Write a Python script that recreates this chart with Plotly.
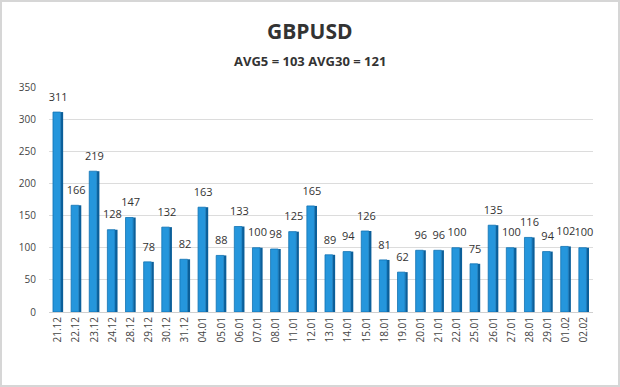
import plotly.graph_objects as go

dates = ["21.12","22.12","23.12","24.12","28.12","29.12","30.12","31.12","04.01","05.01",
         "06.01","07.01","08.01","11.01","12.01","13.01","14.01","15.01","18.01","19.01",
         "20.01","21.01","22.01","25.01","26.01","27.01","28.01","29.01","01.02","02.02"]
values = [311,166,219,128,147,78,132,82,163,88,
          133,100,98,125,165,89,94,126,81,62,
          96,96,100,75,135,100,116,94,102,100]

title_text = "GBPUSD"
subtitle_text = "AVG5 = 103 AVG30 = 121"

FONT = "Open Sans, Liberation Sans, sans-serif"

fig = go.Figure()
# side face (darker) to give a 3D look
fig.add_trace(go.Bar(
    x=dates, y=values, width=0.14, offset=0.14,
    marker=dict(color="#0b5f9a", line=dict(width=0)),
    hoverinfo="skip", showlegend=False,
))
# front face
fig.add_trace(go.Bar(
    x=dates, y=values, width=0.42, offset=-0.28,
    marker=dict(color="#2596dc", line=dict(color="#1172b3", width=0.8)),
    showlegend=False,
))
# value labels
fig.add_trace(go.Scatter(
    x=dates, y=values, mode="markers+text", text=[str(v) for v in values],
    textposition="top center",
    marker=dict(size=12, opacity=0),
    textfont=dict(family=FONT, size=11, color="#333333"),
    cliponaxis=False, showlegend=False, hoverinfo="skip",
))

fig.update_layout(
    width=620, height=387,
    barmode="overlay",
    paper_bgcolor="white", plot_bgcolor="white",
    margin=dict(l=49, r=27, t=87, b=75),
    font=dict(family=FONT, color="#444444"),
    xaxis=dict(
        range=[-0.5, len(dates) - 0.5],
        tickangle=-90, tickfont=dict(size=10, color="#444444"),
        showgrid=False, showline=True, linecolor="#d0d0d0", linewidth=1,
        ticks="", fixedrange=True,
    ),
    yaxis=dict(
        range=[0, 350], dtick=50, tickfont=dict(size=10, color="#444444"),
        showgrid=True, gridcolor="#dcdcdc", gridwidth=1,
        zeroline=False, showline=False, ticks="", ticklabelstandoff=12,
        fixedrange=True,
    ),
    annotations=[
        dict(text=f"<b>{title_text}</b>", xref="paper", yref="paper",
             x=(310 - 49) / 544, y=(312 - 31) / 225, xanchor="center", yanchor="middle",
             showarrow=False, font=dict(family=FONT, size=21, color="#333333")),
        dict(text=f"<b>{subtitle_text}</b>", xref="paper", yref="paper",
             x=(310 - 49) / 544, y=(312 - 61) / 225, xanchor="center", yanchor="middle",
             showarrow=False, font=dict(family=FONT, size=13, color="#333333")),
    ],
    shapes=[dict(type="rect", xref="paper", yref="paper", x0=-48/544, x1=1+26/544,
                 y0=-74/225, y1=1+86/225, line=dict(color="#d6d6d6", width=2))],
)

fig.write_html("out.html", config={"displayModeBar": False},
               post_script="document.body.style.margin='0';")
